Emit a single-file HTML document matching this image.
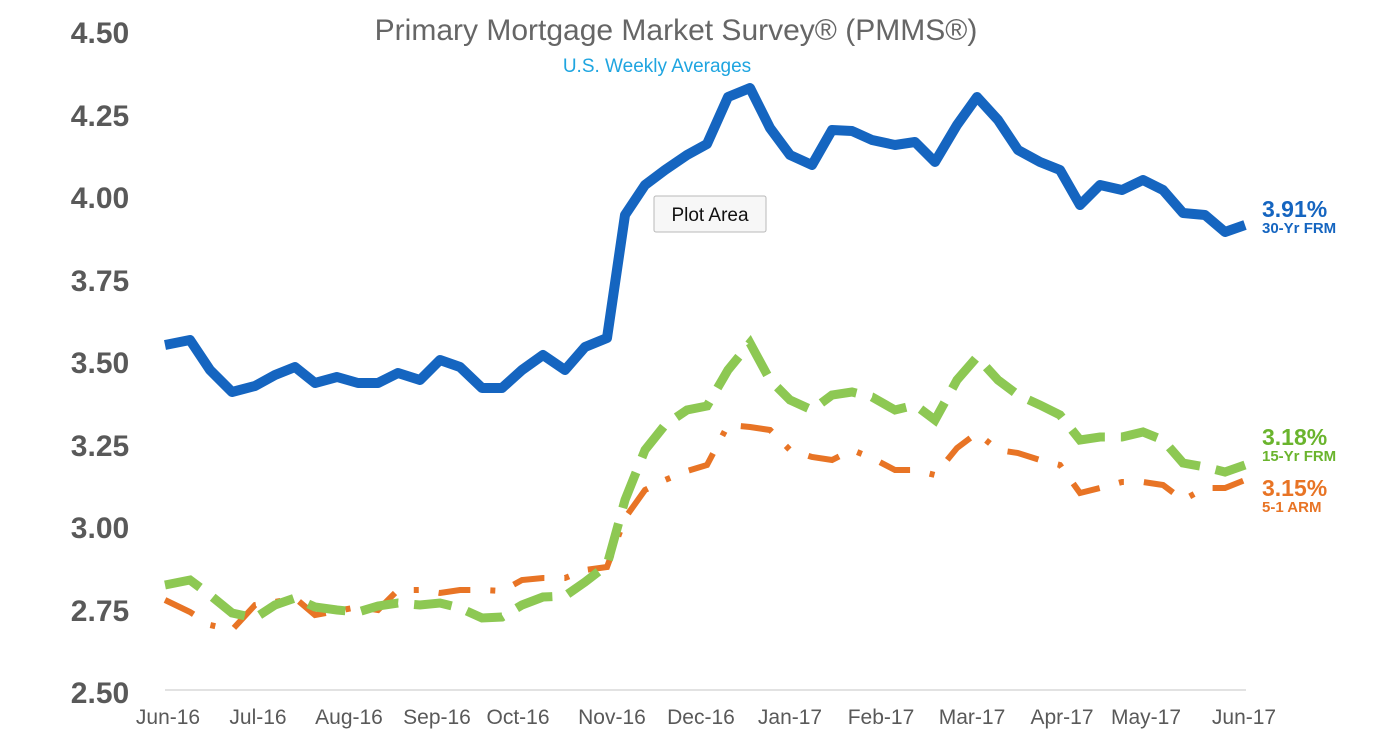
<!DOCTYPE html>
<html><head><meta charset="utf-8"><style>
html,body{margin:0;padding:0;background:#fff;}
body{width:1382px;height:746px;overflow:hidden;font-family:"Liberation Sans",Arial,sans-serif;}
</style></head><body>
<svg width="1382" height="746" xmlns="http://www.w3.org/2000/svg" font-family="Liberation Sans, Arial, sans-serif">
<rect width="1382" height="746" fill="#fff"/>
<text x="676" y="40" text-anchor="middle" font-size="30" fill="#666">Primary Mortgage Market Survey® (PMMS®)</text>
<text x="657" y="72" text-anchor="middle" font-size="19" fill="#1fa5e0">U.S. Weekly Averages</text>
<g font-size="30" font-weight="bold" fill="#595959" text-anchor="middle">
<text x="100" y="43">4.50</text><text x="100" y="126">4.25</text><text x="100" y="208">4.00</text>
<text x="100" y="291">3.75</text><text x="100" y="373">3.50</text><text x="100" y="456">3.25</text>
<text x="100" y="538">3.00</text><text x="100" y="621">2.75</text><text x="100" y="703">2.50</text>
</g>
<line x1="165" y1="690" x2="1246" y2="690" stroke="#d9d9d9" stroke-width="1.5"/>
<g font-size="21" fill="#595959" text-anchor="middle">
<text x="168" y="724">Jun-16</text><text x="258" y="724">Jul-16</text><text x="349" y="724">Aug-16</text>
<text x="437" y="724">Sep-16</text><text x="518" y="724">Oct-16</text><text x="612" y="724">Nov-16</text>
<text x="701" y="724">Dec-16</text><text x="790" y="724">Jan-17</text><text x="881" y="724">Feb-17</text>
<text x="972" y="724">Mar-17</text><text x="1062" y="724">Apr-17</text><text x="1146" y="724">May-17</text>
<text x="1244" y="724">Jun-17</text>
</g>
<polyline fill="none" stroke="#e87425" stroke-width="6" stroke-dasharray="32,20,5,20" points="165,600 190,612 210,625 232,630 255,605 275,602 295,598 315,615 337,611 358,607 378,610 398,590 420,590 440,593 460,590 482,590 502,591 522,580 543,578 565,578 585,570 607,567 625,518 645,490 665,480 687,471 707,465 728,425 750,427 770,430 790,450 812,457 832,460 852,450 872,458 895,470 915,470 935,475 957,448 977,433 998,450 1018,453 1040,460 1060,465 1080,493 1100,488 1122,482 1143,482 1163,485 1183,500 1205,488 1225,488 1245,480"/>
<polyline fill="none" stroke="#8dc853" stroke-width="9" stroke-dasharray="38,16" points="165,585 190,580 210,595 232,613 255,618 275,605 295,598 315,607 337,610 358,612 378,606 398,603 420,605 440,603 460,608 482,618 502,617 522,605 543,597 565,596 585,582 607,565 625,500 645,450 665,425 687,410 707,406 728,370 750,343 770,380 790,400 812,410 832,395 852,392 872,397 895,410 915,405 935,420 957,380 977,357 998,380 1018,395 1040,405 1060,415 1080,440 1100,437 1122,437 1143,432 1163,440 1183,463 1205,467 1225,472 1245,465"/>
<polyline fill="none" stroke="#1565c0" stroke-width="10" stroke-linejoin="round" points="165,345 190,340 210,370 232,392 255,386 275,375 295,367 315,383 337,377 358,383 378,383 398,373 420,380 440,360 460,367 482,388 502,388 522,370 543,355 565,370 585,347 607,338 625,215 645,185 665,170 687,155 707,144 728,97 750,88 770,128 790,155 812,165 832,130 852,131 872,140 895,145 915,142 935,162 957,125 977,97 998,120 1018,150 1040,162 1060,170 1080,205 1100,185 1122,190 1143,180 1163,190 1183,213 1205,215 1225,232 1245,225"/>
<text x="1262" y="217" font-size="23" font-weight="bold" fill="#1565c0">3.91%</text>
<text x="1262" y="233" font-size="15" font-weight="bold" fill="#1565c0">30-Yr FRM</text>
<text x="1262" y="445" font-size="23" font-weight="bold" fill="#6ab42d">3.18%</text>
<text x="1262" y="461" font-size="15" font-weight="bold" fill="#6ab42d">15-Yr FRM</text>
<text x="1262" y="496" font-size="23" font-weight="bold" fill="#e87425">3.15%</text>
<text x="1262" y="512" font-size="15" font-weight="bold" fill="#e87425">5-1 ARM</text>
<rect x="654" y="196" width="112" height="36" fill="#f7f7f7" stroke="#b8b8b8" rx="2"/>
<text x="710" y="221" text-anchor="middle" font-size="19" fill="#111">Plot Area</text>
</svg>
</body></html>
